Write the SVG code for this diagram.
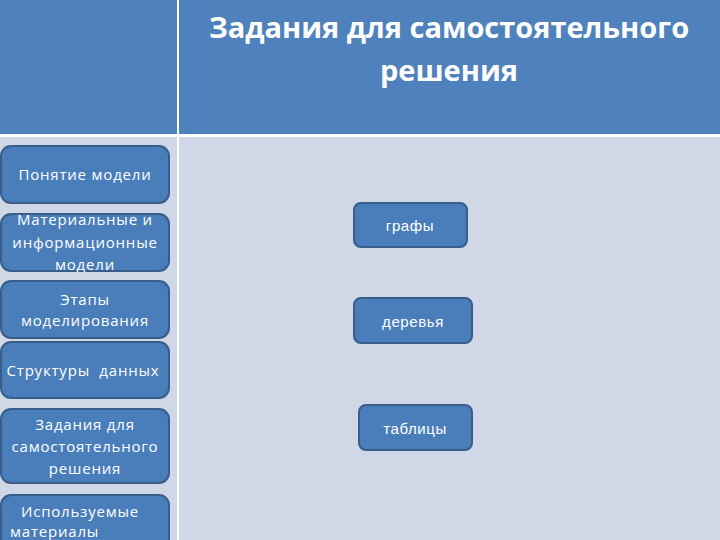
<svg xmlns="http://www.w3.org/2000/svg" width="720" height="540" viewBox="0 0 720 540">
<style>
.hdr{fill:#4f81bd}
.cell{fill:#d0d8e8}
.btn{fill:#4a7ebb;stroke:#385d8a;stroke-width:2}
.t{font-family:"Open Sans","Liberation Sans",sans-serif;font-size:15px;letter-spacing:0.8px;fill:#ffffff;text-anchor:middle}
.s{font-family:"Liberation Sans",sans-serif;font-size:15px;letter-spacing:0.6px;fill:#ffffff;text-anchor:middle}
.title{font-family:"Open Sans","Liberation Sans",sans-serif;font-weight:bold;font-size:29px;fill:#ffffff;text-anchor:middle}
</style>
<rect x="0" y="0" width="720" height="540" fill="#ffffff"/>
<g id="table">
<rect class="hdr" x="0" y="0" width="177" height="134"/>
<rect class="hdr" x="179" y="0" width="541" height="134"/>
<rect class="cell" x="0" y="137" width="177" height="403"/>
<rect class="cell" x="179" y="137" width="541" height="403"/>
</g>
<g id="title">
<text class="title" x="449" y="38">Задания для самостоятельного</text>
<text class="title" x="449" y="81">решения</text>
</g>
<g id="n1"><rect class="btn" x="1" y="146" width="168" height="57" rx="10"/><text class="t" x="85" y="180">Понятие модели</text></g>
<g id="n2"><rect class="btn" x="1" y="214" width="168" height="57" rx="10"/><text class="t" x="85" y="225">Материальные и</text><text class="t" x="85" y="248">информационные</text><text class="t" x="85" y="270">модели</text></g>
<g id="n3"><rect class="btn" x="1" y="281" width="168" height="57" rx="10"/><text class="t" x="85" y="305">Этапы</text><text class="t" x="85" y="326">моделирования</text></g>
<g id="n4"><rect class="btn" x="1" y="342" width="168" height="56" rx="10"/><text class="t" x="83" y="376">Структуры&#160; данных</text></g>
<g id="n5"><rect class="btn" x="1" y="409" width="168" height="74" rx="10"/><text class="t" x="85" y="430">Задания для</text><text class="t" x="85" y="452">самостоятельного</text><text class="t" x="85" y="474">решения</text></g>
<g id="n6"><rect class="btn" x="1" y="495" width="168" height="60" rx="10"/><text class="t" x="80" y="517">Используемые</text><text class="t" x="10" y="537" style="text-anchor:start">материалы</text></g>
<g id="n7"><rect class="btn" x="354" y="203" width="113" height="44" rx="7"/><text class="s" x="410" y="231">графы</text></g>
<g id="n8"><rect class="btn" x="354" y="298" width="118" height="45" rx="7"/><text class="s" x="413" y="327">деревья</text></g>
<g id="n9"><rect class="btn" x="359" y="405" width="113" height="45" rx="7"/><text class="s" x="415" y="434">таблицы</text></g>
<g id="connectors"></g>
</svg>
